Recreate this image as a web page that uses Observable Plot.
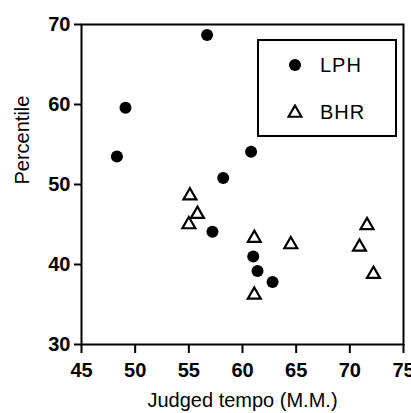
<!DOCTYPE html>
<html><head><meta charset="utf-8">
<script src="https://cdn.jsdelivr.net/npm/d3@7"></script>
<script src="https://cdn.jsdelivr.net/npm/@observablehq/plot@0.6"></script>
<style>
body{margin:0;background:#fff;}
#wrap{position:relative;width:411px;height:413px;font-family:"Liberation Sans",Arial,sans-serif;}
#legend{position:absolute;left:257px;top:39px;width:136px;height:94px;border:2px solid #000;background:#fff;}
#legend .row{position:absolute;left:0;display:flex;align-items:center;height:24px;font-size:20px;letter-spacing:1px;}
</style>
</head><body>
<div id="wrap"></div>
<script>
const lphX = [56.7, 49.1, 48.3, 60.8, 58.2, 57.2, 61.0, 61.4, 62.8];
const lphY = [68.7, 59.6, 53.5, 54.1, 50.8, 44.1, 41.0, 39.2, 37.8];
const bhrX = [55.1, 55.8, 55.0, 61.1, 64.5, 61.1, 71.6, 70.9, 72.2];
const bhrY = [48.6, 46.3, 45.0, 43.3, 42.5, 36.2, 44.9, 42.2, 38.8];
const xTicks = [45, 50, 55, 60, 65, 70, 75];
const yTicks = [30, 40, 50, 60, 70];
const seriesNames = ["LPH", "BHR"];
const xLabel = "Judged tempo (M.M.)";
const yLabel = "Percentile";

const lph = lphX.map((x, i) => ({x, y: lphY[i]}));
const bhr = bhrX.map((x, i) => ({x, y: bhrY[i]}));

const chart = Plot.plot({
  width: 411, height: 413,
  marginLeft: 81, marginTop: 24, marginRight: 8, marginBottom: 69,
  x: {domain: [45, 75]},
  y: {domain: [30, 70]},
  style: {fontFamily: "'Liberation Sans', Arial, sans-serif", color: "#000", background: "#fff", overflow: "visible"},
  marks: [
    Plot.frame({stroke: "#000", strokeWidth: 2}),
    Plot.axisX({ticks: xTicks, tickSize: 9, tickPadding: 9, strokeWidth: 2, fontSize: 20, fontWeight: "bold", label: null}),
    Plot.axisY({ticks: yTicks, tickSize: 7, tickPadding: 4, strokeWidth: 2, fontSize: 20, fontWeight: "bold", label: null}),
    Plot.text([xLabel], {frameAnchor: "bottom", dy: 62, fontSize: 20, fill: "#000"}),
    Plot.text([yLabel], {frameAnchor: "left", dx: -59, rotate: -90, fontSize: 20, fill: "#000"}),
    Plot.dot(lph, {x: "x", y: "y", r: 6, fill: "#000", stroke: "none"}),
    Plot.dot(bhr, {x: "x", y: "y", r: 4.8, symbol: "triangle", fill: "none", stroke: "#000", strokeWidth: 2.2})
  ]
});
const wrap = document.getElementById("wrap");
wrap.appendChild(chart);

const legend = document.createElement("div");
legend.id = "legend";
const items = [
  {name: seriesNames[0], svg: '<svg width="16" height="16"><circle cx="8" cy="8" r="6" fill="#000"/></svg>', top: 12},
  {name: seriesNames[1], svg: '<svg width="16" height="16"><path d="' + d3.symbol(d3.symbolTriangle, Math.PI*4.8*4.8)() + '" transform="translate(8,9)" fill="none" stroke="#000" stroke-width="2.2"/></svg>', top: 59}
];
for (const it of items) {
  const row = document.createElement("div");
  row.className = "row";
  row.style.top = it.top + "px";
  row.style.left = "28px";
  row.innerHTML = it.svg + '<span style="margin-left:17px">' + it.name + '</span>';
  legend.appendChild(row);
}
wrap.appendChild(legend);
</script>
</body></html>
